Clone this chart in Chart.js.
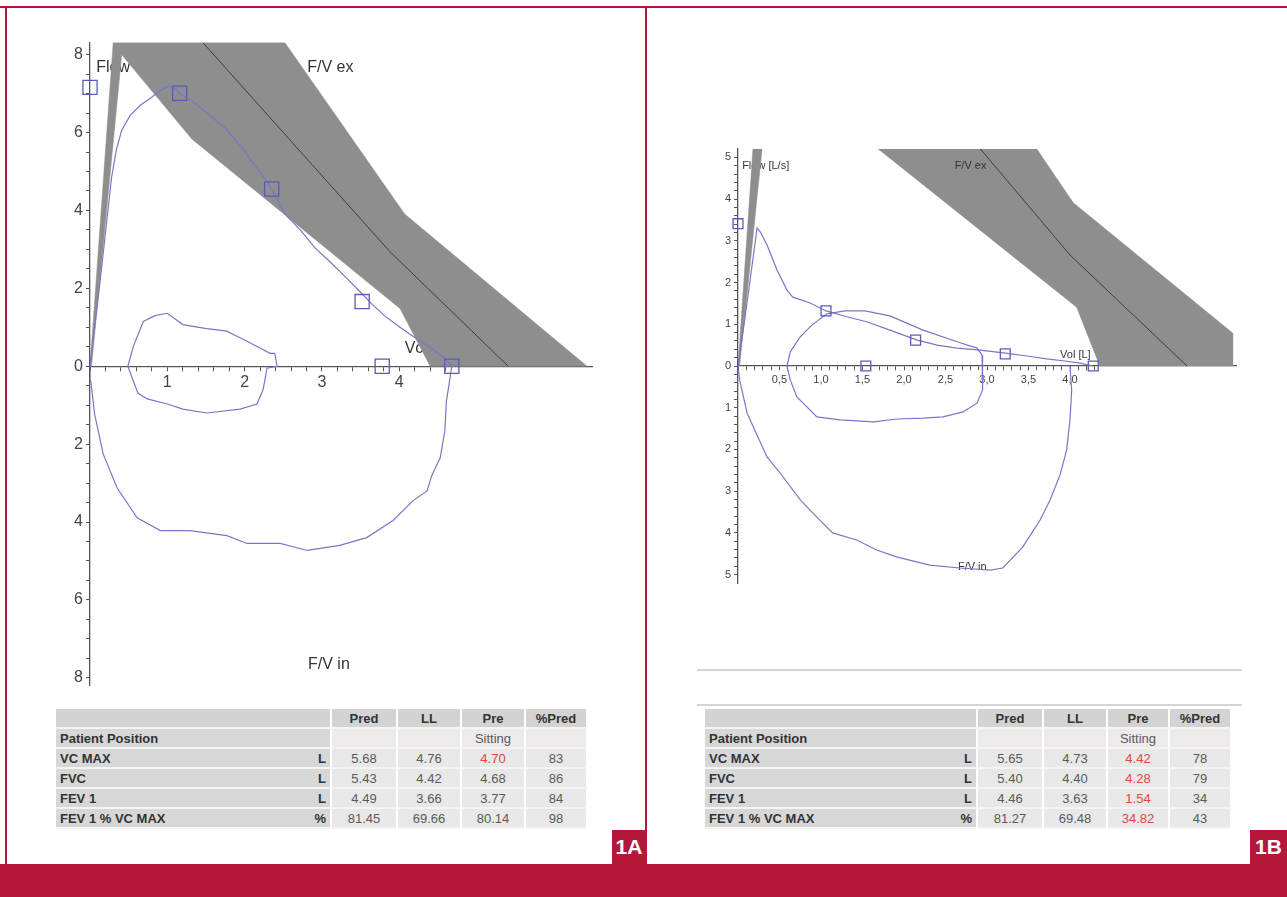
<!DOCTYPE html>
<html>
<head>
<meta charset="utf-8">
<script src="https://cdn.jsdelivr.net/npm/chart.js@4.4.1/dist/chart.umd.min.js"></script>
<style>
  body { margin: 0; background: #fff; font-family: Arial, "Liberation Sans", sans-serif; }
  #page { position: relative; width: 1287px; height: 897px; overflow: hidden; background: #fff; }
  .red { position: absolute; background: #b5173a; }
  .tag { position: absolute; background: #b5173a; color: #fff; font-weight: bold; font-size: 21px;
         text-align: center; line-height: 34px; }
  canvas { position: absolute; }
  .hline { position: absolute; height: 2px; background: #d4d4d4; }
  table.res { position: absolute; border-collapse: separate; border-spacing: 0; font-size: 13px; }
  table.res td { height: 18px; padding: 0 4px; border-right: 2px solid #fff; border-bottom: 2px solid #f4f4f4;
                 text-align: center; color: #5a5a5a; background: #e8e8e8; }
  table.res td.lab { text-align: left; font-weight: bold; color: #333; background: #d7d7d7; border-right: none; }
  table.res td.unit { text-align: right; font-weight: bold; color: #333; background: #d7d7d7; }
  table.res tr.head td { background: #d3d3d3; font-weight: bold; color: #333; }
  table.res tr.pos td { background: #eeeaea; }
  table.res tr.pos td.lab, table.res tr.pos td.unit { background: #d7d7d7; }
  table.res td.flag { color: #e0483a; }
</style>
</head>
<body>
<div id="page">
  <div class="red" style="left:0;top:6px;width:1287px;height:2px"></div>
  <div class="red" style="left:5px;top:6px;width:2px;height:860px"></div>
  <div class="red" style="left:645px;top:6px;width:2px;height:860px"></div>
  <div class="red" style="left:0;top:864px;width:1287px;height:33px"></div>
  <div class="tag" style="left:612px;top:830px;width:34px;height:34px">1A</div>
  <div class="tag" style="left:1250px;top:830px;width:37px;height:34px">1B</div>
  <div class="hline" style="left:697px;top:669px;width:545px"></div>
  <div class="hline" style="left:697px;top:704px;width:545px"></div>
  <canvas id="chartA" width="580" height="670" style="left:40px;top:30px"></canvas>
  <canvas id="chartB" width="570" height="480" style="left:690px;top:130px"></canvas>
  <table class="res" id="tableA" style="left:56px;top:709px;width:532px"></table>
  <table class="res" id="tableB" style="left:705px;top:709px;width:527px"></table>
</div>
<script>
// ---- 1A : flow (L/s) against volume (L) ----
const expVolA  = [0, 0.13, 0.23, 0.28, 0.34, 0.41, 0.52, 0.65, 0.78, 0.91, 1.01, 1.10, 1.16, 1.36, 1.55, 1.75, 1.94, 2.13, 2.30, 2.39, 2.52, 2.72, 2.91, 3.10, 3.30, 3.49, 3.65, 3.82, 4.01, 4.20, 4.40, 4.59, 4.68];
const expFlowA = [0, 2.17, 3.96, 4.86, 5.55, 6.06, 6.44, 6.70, 6.88, 7.08, 7.19, 7.14, 7.01, 6.75, 6.44, 6.11, 5.68, 5.17, 4.71, 4.40, 3.91, 3.50, 3.04, 2.69, 2.30, 1.92, 1.59, 1.28, 1.00, 0.74, 0.49, 0.20, 0];
const insVolA  = [4.68, 4.61, 4.59, 4.53, 4.42, 4.36, 4.18, 3.92, 3.58, 3.23, 2.81, 2.46, 2.03, 1.77, 1.29, 0.91, 0.61, 0.35, 0.17, 0.06, 0.01, 0];
const insFlowA = [0, -0.9, -1.66, -2.35, -2.81, -3.20, -3.45, -3.96, -4.40, -4.60, -4.73, -4.55, -4.55, -4.35, -4.22, -4.22, -3.89, -3.12, -2.25, -1.23, -0.38, 0];
const tidVolA  = [0.49, 0.56, 0.69, 0.84, 1.00, 1.20, 1.49, 1.77, 2.03, 2.33, 2.39, 2.42, 2.29, 2.24, 2.16, 1.94, 1.51, 1.20, 1.00, 0.74, 0.62, 0.56, 0.49];
const tidFlowA = [0, 0.51, 1.15, 1.30, 1.36, 1.07, 0.97, 0.90, 0.64, 0.33, 0.33, 0, -0.05, -0.59, -0.97, -1.10, -1.20, -1.10, -0.97, -0.84, -0.69, -0.38, 0];
const markVolA  = [0, 1.16, 2.35, 3.52, 3.78, 4.68];
const markFlowA = [7.16, 7.01, 4.55, 1.66, 0, 0];
const bandVolA  = [0, 0.30, 2.52, 4.07, 6.43, 4.40, 4.01, 1.32, 0.41, 0.02, 0];
const bandFlowA = [0, 8.31, 8.31, 3.91, 0, 0, 1.48, 5.83, 8.0, 0, 0];
const predVolA  = [1.46, 3.88, 5.41];
const predFlowA = [8.31, 2.94, 0];
const xMajorA = [1, 2, 3, 4];
const yMajorA = [-8, -6, -4, -2, 0, 2, 4, 6, 8];

// ---- 1B ----
const expVolB  = [0, 0.08, 0.17, 0.23, 0.27, 0.35, 0.47, 0.59, 0.66, 0.87, 1.06, 1.31, 1.55, 1.83, 2.16, 2.40, 2.64, 2.92, 3.22, 3.48, 3.72, 3.94, 4.12, 4.28];
const expFlowB = [0, 1.10, 2.42, 3.31, 3.21, 2.90, 2.30, 1.82, 1.65, 1.51, 1.32, 1.18, 1.06, 0.86, 0.62, 0.50, 0.43, 0.38, 0.31, 0.24, 0.17, 0.12, 0.07, 0];
const insVolB  = [4.0, 4.02, 4.0, 3.96, 3.88, 3.76, 3.64, 3.43, 3.19, 3.04, 2.67, 2.31, 1.92, 1.67, 1.43, 1.14, 0.95, 0.75, 0.51, 0.35, 0.20, 0.11, 0.02, 0];
const insFlowB = [0, -0.58, -1.29, -2.01, -2.61, -3.21, -3.69, -4.34, -4.84, -4.89, -4.84, -4.77, -4.58, -4.41, -4.17, -4.00, -3.62, -3.21, -2.57, -2.18, -1.53, -1.13, -0.34, 0];
const tidVolB  = [0.59, 0.63, 0.75, 0.89, 1.07, 1.29, 1.53, 1.83, 2.23, 2.64, 2.88, 2.94, 2.95, 2.95, 2.94, 2.88, 2.71, 2.47, 2.23, 1.92, 1.63, 1.23, 0.95, 0.83, 0.71, 0.63, 0.59];
const tidFlowB = [0, 0.34, 0.70, 0.98, 1.25, 1.32, 1.32, 1.20, 0.86, 0.58, 0.43, 0.26, 0, -0.34, -0.58, -0.89, -1.10, -1.22, -1.25, -1.27, -1.34, -1.29, -1.22, -0.98, -0.74, -0.34, 0];
const markVolB  = [0, 1.06, 2.14, 3.22, 1.54, 4.28];
const markFlowB = [3.41, 1.32, 0.62, 0.29, 0, 0];
const sliverVolB  = [0, 0.18, 0.29, 0.02, 0];
const sliverFlowB = [0, 5.2, 5.2, 0, 0];
const bandVolB  = [1.69, 3.60, 4.04, 5.96, 5.96, 4.36, 4.08, 1.69];
const bandFlowB = [5.2, 5.2, 3.91, 0.79, 0, 0, 1.41, 5.2];
const predVolB  = [2.92, 4.0, 5.41];
const predFlowB = [5.2, 2.66, 0];
const xMajorB = [0.5, 1.0, 1.5, 2.0, 2.5, 3.0, 3.5, 4.0];
const yMajorB = [-5, -4, -3, -2, -1, 0, 1, 2, 3, 4, 5];

// table values
const rowNames = ['Patient Position', 'VC MAX', 'FVC', 'FEV 1', 'FEV 1 % VC MAX'];
const rowUnits = ['', 'L', 'L', 'L', '%'];
const predA = ['', '5.68', '5.43', '4.49', '81.45'];
const llA   = ['', '4.76', '4.42', '3.66', '69.66'];
const preA  = ['Sitting', '4.70', '4.68', '3.77', '80.14'];
const pctA  = ['', '83', '86', '84', '98'];
const flagA = [false, true, false, false, false];
const predB = ['', '5.65', '5.40', '4.46', '81.27'];
const llB   = ['', '4.73', '4.40', '3.63', '69.48'];
const preB  = ['Sitting', '4.42', '4.28', '1.54', '34.82'];
const pctB  = ['', '78', '79', '34', '43'];
const flagB = [false, true, true, true, true];

const curveBlue = '#7777c9';
const markBlue = '#5b5bb6';
const bandGray = '#8e8e8e';

function pts(xs, ys) {
    return xs.map((x, i) => ({ x: x, y: ys[i] }));
}

function curve(xs, ys) {
    return { data: pts(xs, ys), showLine: true, borderColor: curveBlue, borderWidth: 1.2,
             pointRadius: 0, tension: 0, fill: false };
}

function band(xs, ys) {
    return { data: pts(xs, ys), showLine: true, borderColor: bandGray, backgroundColor: bandGray,
             borderWidth: 0.5, pointRadius: 0, tension: 0, fill: 'shape' };
}

function predLine(xs, ys) {
    return { data: pts(xs, ys), showLine: true, borderColor: '#3e3e3e', borderWidth: 1,
             pointRadius: 0, tension: 0, fill: false };
}

function marks(xs, ys, r) {
    return { data: pts(xs, ys), showLine: false, pointStyle: 'rect', pointRadius: r, clip: false,
             pointBorderColor: markBlue, pointBackgroundColor: 'rgba(0,0,0,0)', pointBorderWidth: 1.3 };
}

// tick positions with minor steps, labels only on the major values
function tickList(from, to, step) {
    const out = [];
    for (let i = 0; from + i * step <= to + 1e-9; i++) out.push(Math.round((from + i * step) * 100) / 100);
    return out;
}

function axis(min, max, pos, ticksAt, majors, fmt, fontSize, fixedWidth) {
    const o = {
        type: 'linear', min: min, max: max,
        position: pos,
        grid: { drawOnChartArea: false, drawTicks: true, tickLength: 4, tickColor: '#555' },
        border: { display: true, color: '#555', width: 1.3 },
        afterBuildTicks: function(scale) { scale.ticks = ticksAt.map(v => ({ value: v })); },
        ticks: {
            autoSkip: false, maxRotation: 0, padding: 3, color: '#444',
            font: { family: 'Arial, "Liberation Sans"', size: fontSize },
            callback: function(v) { return majors.some(m => Math.abs(m - v) < 1e-6) ? fmt(v) : ''; }
        }
    };
    if (fixedWidth) o.afterFit = function(scale) { scale.width = fixedWidth; };
    return o;
}

// free text inside the plot, placed with the chart's own scales
function drawNotes(chart, notes, size) {
    const ctx = chart.ctx;
    ctx.save();
    ctx.fillStyle = '#333';
    ctx.font = size + 'px Arial, "Liberation Sans"';
    ctx.textBaseline = 'middle';
    notes.forEach(n => {
        ctx.fillText(n.text, chart.scales.x.getPixelForValue(n.x), chart.scales.y.getPixelForValue(n.y));
    });
    ctx.restore();
}

function notesPlugin(under, over, size) {
    return {
        id: 'notes',
        beforeDatasetsDraw(chart) { drawNotes(chart, under, size); },
        afterDatasetsDraw(chart) { drawNotes(chart, over, size); }
    };
}

const notesUnderA = [
    { text: 'Flow', x: 0.08, y: 7.67 },
    { text: 'F/V ex', x: 2.81, y: 7.67 },
    { text: 'Vc', x: 4.07, y: 0.46 },
    { text: 'F/V in', x: 2.82, y: -7.65 }
];
const notesUnderB = [
    { text: 'Flow [L/s]', x: 0.05, y: 4.8 },
    { text: 'Vol [L]', x: 3.88, y: 0.26 },
    { text: 'F/V in', x: 2.65, y: -4.82 }
];
const notesOverB = [
    { text: 'F/V ex', x: 2.61, y: 4.8 }
];

const baseOptions = {
    responsive: false,
    animation: false,
    plugins: { legend: { display: false }, tooltip: { enabled: false } }
};

new Chart(document.getElementById('chartA').getContext('2d'), {
    type: 'scatter',
    data: {
        datasets: [
            marks(markVolA, markFlowA, 10),
            curve(expVolA, expFlowA),
            curve(insVolA, insFlowA),
            curve(tidVolA, tidFlowA),
            predLine(predVolA, predFlowA),
            band(bandVolA, bandFlowA)
        ]
    },
    options: Object.assign({}, baseOptions, {
        layout: { padding: { left: 10, top: 10, right: 27.5, bottom: 14.4 } },
        scales: {
            x: axis(0, 6.5, { y: 0 }, tickList(0, 4.6, 0.2), xMajorA, v => String(v), 16),
            y: axis(-8.2, 8.31, 'left', tickList(-8, 8, 0.5), yMajorA, v => String(Math.abs(v)), 16, 40)
        }
    }),
    plugins: [notesPlugin(notesUnderA, [], 16)]
});

new Chart(document.getElementById('chartB').getContext('2d'), {
    type: 'scatter',
    data: {
        datasets: [
            marks(markVolB, markFlowB, 7),
            curve(expVolB, expFlowB),
            curve(insVolB, insFlowB),
            curve(tidVolB, tidFlowB),
            predLine(predVolB, predFlowB),
            band(sliverVolB, sliverFlowB),
            band(bandVolB, bandFlowB)
        ]
    },
    options: Object.assign({}, baseOptions, {
        layout: { padding: { left: 12, top: 19, right: 24, bottom: 27 } },
        scales: {
            x: axis(0, 6.0, { y: 0 }, tickList(0, 4.3, 0.1), xMajorB, v => v.toFixed(1).replace('.', ','), 11),
            y: axis(-5.2, 5.2, 'left', tickList(-5, 5, 0.2), yMajorB, v => String(Math.abs(v)), 11, 36)
        }
    }),
    plugins: [notesPlugin(notesUnderB, notesOverB, 11)]
});

// result tables
function buildTable(id, widths, pred, ll, pre, pct, flags) {
    const t = document.getElementById(id);
    let html = '<colgroup>' + widths.map(w => '<col style="width:' + w + 'px">').join('') + '</colgroup>';
    html += '<tr class="head"><td class="lab"></td><td></td><td>Pred</td><td>LL</td><td>Pre</td><td>%Pred</td></tr>';
    rowNames.forEach((name, i) => {
        html += '<tr' + (i === 0 ? ' class="pos"' : '') + '>' +
            '<td class="lab">' + name + '</td>' +
            '<td class="unit">' + rowUnits[i] + '</td>' +
            '<td>' + pred[i] + '</td>' +
            '<td>' + ll[i] + '</td>' +
            '<td' + (flags[i] ? ' class="flag"' : '') + '>' + pre[i] + '</td>' +
            '<td>' + pct[i] + '</td></tr>';
    });
    t.innerHTML = html;
}

buildTable('tableA', [230, 46, 66, 64, 64, 62], predA, llA, preA, pctA, flagA);
buildTable('tableB', [228, 45, 66, 64, 62, 62], predB, llB, preB, pctB, flagB);
</script>
</body>
</html>
